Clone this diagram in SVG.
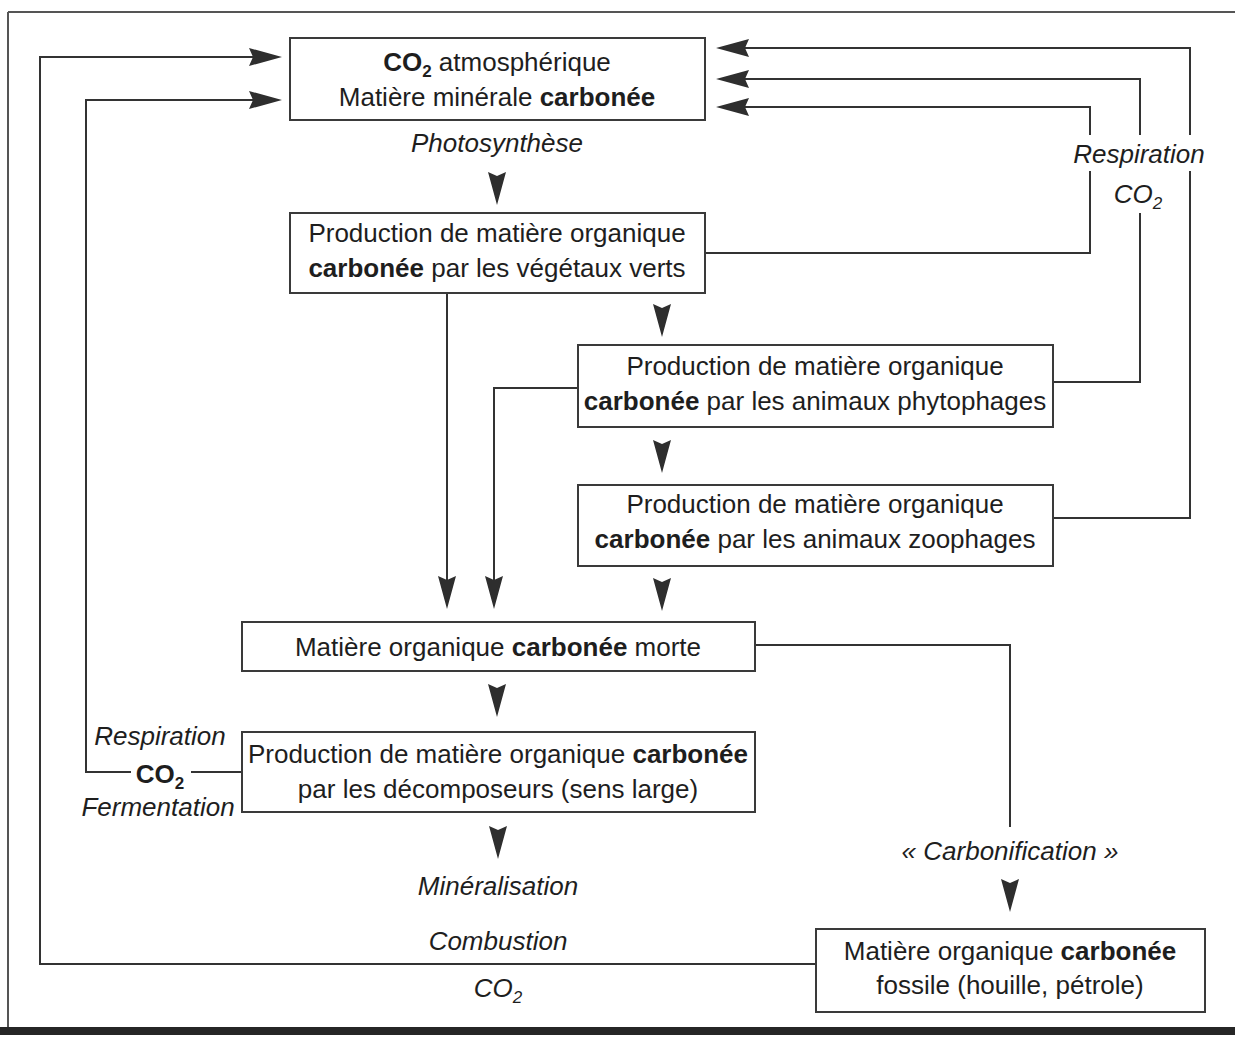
<svg xmlns="http://www.w3.org/2000/svg" xmlns:xlink="http://www.w3.org/1999/xlink" width="1235" height="1037" viewBox="0 0 1235 1037">
<style>
  text { font-family: "Liberation Sans", Arial, Helvetica, sans-serif; font-size: 26px; fill: #1e1e1e; }
  .c { text-anchor: middle; }
  .i { font-style: italic; }
  .b { font-weight: bold; }
  .box { fill: #ffffff; stroke: #3a3a3a; stroke-width: 2; }
  .ln { fill: none; stroke: #333333; stroke-width: 2; }
  .ah { fill: #2e2e2e; }
  .knock { fill: #ffffff; }
</style>
<defs>
  <path id="ah" class="ah" d="M0,0 L-33,-9 L-29,0 L-33,9 Z"/>
</defs>
<rect x="0" y="0" width="1235" height="1037" fill="#ffffff"/>
<g id="frame">
  <line x1="8" y1="12" x2="1235" y2="12" stroke="#555" stroke-width="2"/>
  <line x1="8" y1="12" x2="8" y2="1030" stroke="#555" stroke-width="2"/>
  <rect x="0" y="1027" width="1235" height="8" fill="#262626"/>
</g>
<g id="connectors">
  <polyline class="ln" points="705,253 1090,253 1090,107 745,107"/>
  <polyline class="ln" points="1053,382 1140,382 1140,79 745,79"/>
  <polyline class="ln" points="1053,518 1190,518 1190,48 745,48"/>
  <polyline class="ln" points="816,964 40,964 40,57 255,57"/>
  <polyline class="ln" points="242,772 86,772 86,100 255,100"/>
  <polyline class="ln" points="447,293 447,580"/>
  <polyline class="ln" points="578,388 494,388 494,580"/>
  <polyline class="ln" points="755,645 1010,645 1010,827"/>
  <use xlink:href="#ah" href="#ah" transform="translate(716,48) rotate(180)"/>
  <use xlink:href="#ah" href="#ah" transform="translate(716,79) rotate(180)"/>
  <use xlink:href="#ah" href="#ah" transform="translate(716,107) rotate(180)"/>
  <use xlink:href="#ah" href="#ah" transform="translate(282,57)"/>
  <use xlink:href="#ah" href="#ah" transform="translate(282,100)"/>
  <use xlink:href="#ah" href="#ah" transform="translate(447,609) rotate(90)"/>
  <use xlink:href="#ah" href="#ah" transform="translate(494,609) rotate(90)"/>
  <use xlink:href="#ah" href="#ah" transform="translate(497,205) rotate(90)"/>
  <use xlink:href="#ah" href="#ah" transform="translate(662,337) rotate(90)"/>
  <use xlink:href="#ah" href="#ah" transform="translate(662,473) rotate(90)"/>
  <use xlink:href="#ah" href="#ah" transform="translate(662,611) rotate(90)"/>
  <use xlink:href="#ah" href="#ah" transform="translate(497,717) rotate(90)"/>
  <use xlink:href="#ah" href="#ah" transform="translate(498,859) rotate(90)"/>
  <use xlink:href="#ah" href="#ah" transform="translate(1010,912) rotate(90)"/>
</g>
<g id="labels">
  <rect class="knock" x="1068" y="135" width="142" height="36"/>
  <rect class="knock" x="1118" y="171" width="44" height="42"/>
  <rect class="knock" x="131" y="760" width="60" height="28"/>
  <text class="c i" x="497" y="152">Photosynthèse</text>
  <text class="c i" x="1139" y="163">Respiration</text>
  <text class="c i" x="1138" y="203">CO<tspan font-size="17" dy="6">2</tspan></text>
  <text class="c i" x="160" y="745">Respiration</text>
  <text class="c b" x="160" y="783">CO<tspan font-size="17" dy="6">2</tspan></text>
  <text class="c i" x="158" y="816">Fermentation</text>
  <text class="c i" x="498" y="895">Minéralisation</text>
  <text class="c i" x="498" y="950">Combustion</text>
  <text class="c i" x="498" y="997">CO<tspan font-size="17" dy="6">2</tspan></text>
  <text class="c i" x="1010" y="860">« Carbonification »</text>
</g>
<g id="node-co2">
  <rect class="box" x="290" y="38" width="415" height="82"/>
  <text class="c" x="497" y="71"><tspan class="b">CO</tspan><tspan class="b" font-size="17" dy="6">2</tspan><tspan dy="-6"> atmosphérique</tspan></text>
  <text class="c" x="497" y="106">Matière minérale <tspan class="b">carbonée</tspan></text>
</g>
<g id="node-vegetaux">
  <rect class="box" x="290" y="213" width="415" height="80"/>
  <text class="c" x="497" y="242">Production de matière organique</text>
  <text class="c" x="497" y="277"><tspan class="b">carbonée</tspan> par les végétaux verts</text>
</g>
<g id="node-phytophages">
  <rect class="box" x="578" y="345" width="475" height="82"/>
  <text class="c" x="815" y="375">Production de matière organique</text>
  <text class="c" x="815" y="410"><tspan class="b">carbonée</tspan> par les animaux phytophages</text>
</g>
<g id="node-zoophages">
  <rect class="box" x="578" y="485" width="475" height="81"/>
  <text class="c" x="815" y="513">Production de matière organique</text>
  <text class="c" x="815" y="548"><tspan class="b">carbonée</tspan> par les animaux zoophages</text>
</g>
<g id="node-morte">
  <rect class="box" x="242" y="622" width="513" height="49"/>
  <text class="c" x="498" y="656">Matière organique <tspan class="b">carbonée</tspan> morte</text>
</g>
<g id="node-decomposeurs">
  <rect class="box" x="242" y="732" width="513" height="80"/>
  <text class="c" x="498" y="763">Production de matière organique <tspan class="b">carbonée</tspan></text>
  <text class="c" x="498" y="798">par les décomposeurs (sens large)</text>
</g>
<g id="node-fossile">
  <rect class="box" x="816" y="929" width="389" height="83"/>
  <text class="c" x="1010" y="960">Matière organique <tspan class="b">carbonée</tspan></text>
  <text class="c" x="1010" y="994">fossile (houille, pétrole)</text>
</g>
</svg>
